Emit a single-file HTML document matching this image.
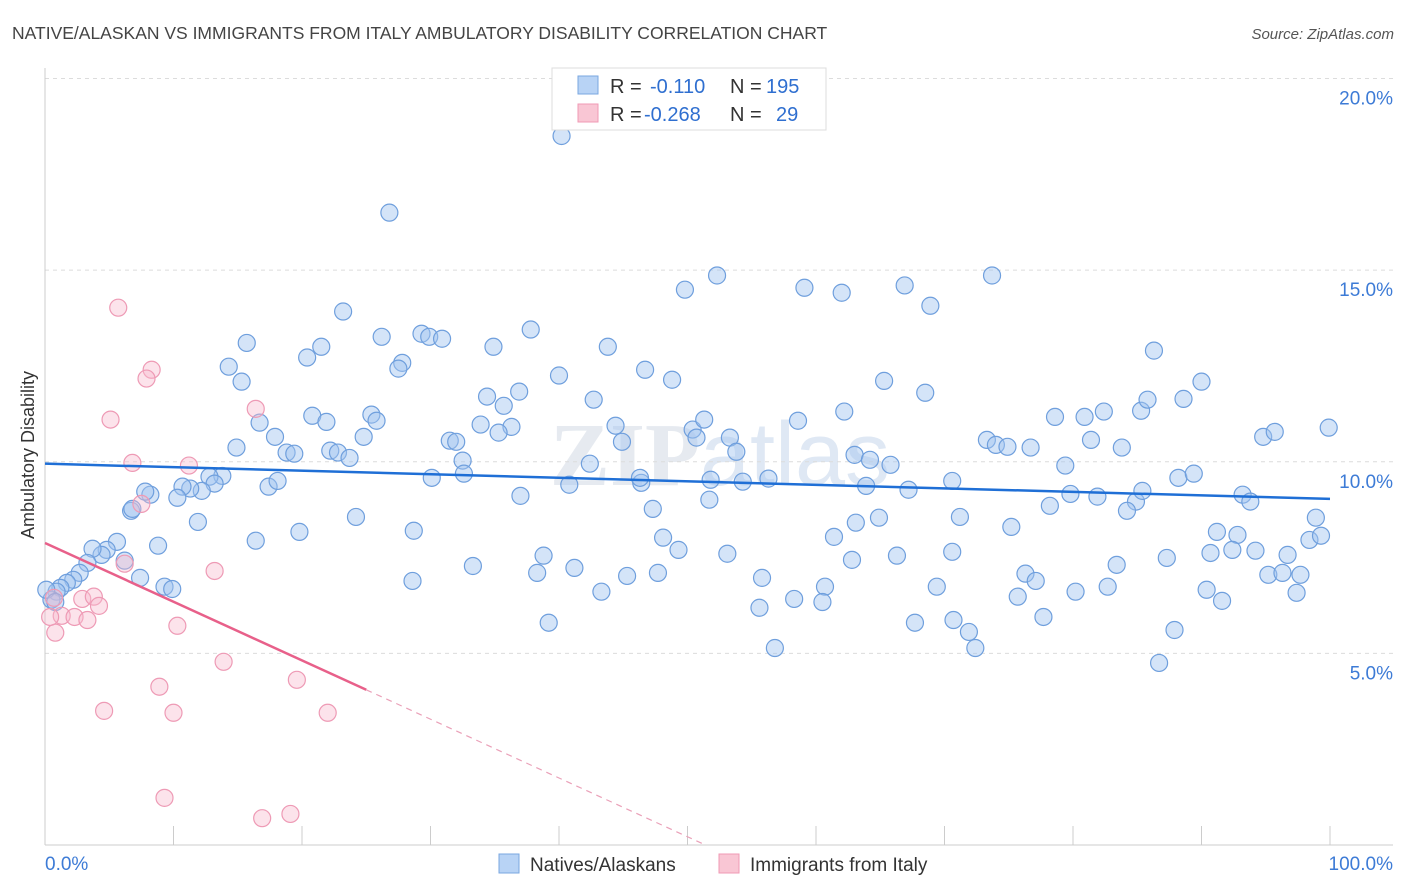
<!DOCTYPE html>
<html><head><meta charset="utf-8">
<style>
body{margin:0;background:#fff;font-family:"Liberation Sans",sans-serif;}
svg{display:block}
</style></head>
<body>
<svg id="chart" width="1406" height="892" xmlns="http://www.w3.org/2000/svg">
<text x="12" y="39" font-size="17.5" fill="#444">NATIVE/ALASKAN VS IMMIGRANTS FROM ITALY AMBULATORY DISABILITY CORRELATION CHART</text>
<text x="1394" y="39" font-size="15" fill="#555" font-style="italic" text-anchor="end">Source: ZipAtlas.com</text>
<text x="720" y="485" font-size="90" fill="#e6eaf0" text-anchor="middle" font-weight="bold" font-family="Liberation Serif, serif">ZIP<tspan font-family="Liberation Sans, sans-serif" font-weight="normal" fill="#dfe8f4">atlas</tspan></text>
<text transform="translate(34,455) rotate(-90)" font-size="18" fill="#333" text-anchor="middle">Ambulatory Disability</text>
<g id="grid"></g>
<g id="pts"></g>
<g id="trends"></g>
<g>
<rect x="552" y="68" width="274" height="62" fill="#fff" stroke="#ddd"/>
<rect x="578" y="76" width="20" height="18" fill="#b8d3f5" stroke="#7aa7e0"/>
<rect x="578" y="104" width="20" height="18" fill="#f9c6d4" stroke="#f09ab5"/>
<text x="610" y="93" font-size="20" fill="#333">R = <tspan fill="#2f6fd0" x="650">-0.110</tspan><tspan x="730" fill="#333">N = </tspan><tspan fill="#2f6fd0" x="766">195</tspan></text>
<text x="610" y="121" font-size="20" fill="#333">R = <tspan fill="#2f6fd0" x="644">-0.268</tspan><tspan x="730" fill="#333">N = </tspan><tspan fill="#2f6fd0" x="776">29</tspan></text>
</g>
<g>
<rect x="499" y="854" width="20" height="19" fill="#b8d3f5" stroke="#7aa7e0"/>
<text x="530" y="871" font-size="19" fill="#333">Natives/Alaskans</text>
<rect x="719" y="854" width="20" height="19" fill="#f9c6d4" stroke="#f09ab5"/>
<text x="750" y="871" font-size="19" fill="#333">Immigrants from Italy</text>
</g>
</svg>
<script>
const yTicks=[5,10,15,20];
const yTickLabels=["5.0%","10.0%","15.0%","20.0%"];
const xTicks=[0,10,20,30,40,50,60,70,80,90,100];
const xTickLabels=["0.0%","100.0%"];
const blueX=[40.2,26.8,52.3,49.8,59.1,62.0,66.9,73.7,68.9,23.2,29.3,29.9,30.9,26.2,37.8,21.5,15.7,20.4,27.8,27.5,34.9,43.8,46.7,40.0,48.8,14.3,15.3,34.4,36.9,35.7,42.7,44.4,33.9,36.3,35.3,31.5,32.0,44.9,50.4,51.3,50.7,53.3,53.8,58.6,62.2,65.3,68.5,63.0,64.2,65.8,78.6,80.9,82.4,85.3,85.8,88.6,90.0,86.3,81.4,83.8,79.4,94.8,95.7,99.9,73.3,74.0,74.9,76.7,17.9,16.7,18.8,19.4,22.2,22.8,23.7,24.8,25.4,25.8,20.8,21.9,14.9,13.8,12.8,13.2,12.2,11.3,10.7,10.3,8.2,7.8,6.7,11.9,17.4,18.1,32.5,32.6,30.1,42.4,40.8,46.4,51.7,54.3,56.3,63.9,67.2,70.6,81.9,84.9,84.2,88.2,89.4,93.2,93.8,79.8,78.2,85.4,71.2,64.9,63.1,61.4,62.8,66.3,70.6,75.2,91.2,92.8,98.9,98.4,99.3,96.7,94.2,92.4,90.7,87.3,83.4,82.7,80.2,76.3,77.1,75.7,77.7,90.4,91.6,95.2,96.3,97.7,97.4,87.9,86.7,72.4,71.9,70.7,69.4,67.7,60.7,60.5,58.3,55.6,56.8,55.8,53.1,49.3,48.1,47.7,45.3,43.3,41.2,38.8,38.3,39.2,37.0,33.3,28.6,28.7,24.2,19.8,16.4,8.8,7.4,9.3,9.9,6.2,5.6,4.8,4.4,3.7,3.3,2.7,2.2,1.7,1.2,0.9,0.5,0.1,0.8,6.8,46.3,47.3,51.8];
const blueY=[18.5,16.5,14.86,14.49,14.54,14.41,14.6,14.86,14.07,13.92,13.34,13.26,13.21,13.26,13.45,13.0,13.1,12.72,12.58,12.43,13.0,13.0,12.4,12.25,12.14,12.48,12.09,11.7,11.83,11.46,11.62,10.94,10.97,10.91,10.76,10.55,10.52,10.52,10.84,11.1,10.63,10.63,10.26,11.07,11.31,12.11,11.8,10.18,10.05,9.92,11.17,11.17,11.31,11.33,11.62,11.64,12.09,12.9,10.57,10.37,9.9,10.65,10.78,10.89,10.57,10.44,10.39,10.37,10.65,11.02,10.24,10.21,10.29,10.24,10.1,10.65,11.23,11.07,11.2,11.04,10.37,9.63,9.61,9.43,9.24,9.3,9.35,9.06,9.14,9.22,8.72,8.43,9.35,9.5,10.03,9.69,9.58,9.95,9.4,9.45,9.01,9.48,9.56,9.37,9.27,9.5,9.09,8.96,8.72,9.58,9.69,9.14,8.96,9.16,8.85,9.24,8.56,8.54,8.41,8.04,7.44,7.55,7.65,8.3,8.17,8.09,8.54,7.96,8.07,7.57,7.68,7.7,7.62,7.49,7.31,6.74,6.61,7.08,6.89,6.48,5.95,6.66,6.37,7.05,7.1,7.05,6.58,5.61,4.75,5.14,5.56,5.87,6.74,5.8,6.74,6.34,6.42,6.19,5.14,6.97,7.6,7.7,8.02,7.1,7.02,6.61,7.23,7.55,7.1,5.8,9.11,7.28,6.89,8.2,8.56,8.17,7.94,7.81,6.97,6.74,6.68,7.42,7.91,7.7,7.57,7.73,7.36,7.1,6.92,6.84,6.71,6.61,6.4,6.66,6.34,8.77,9.58,8.77,9.53];
const pinkX=[5.7,8.3,7.9,5.1,16.4,6.8,11.2,7.5,6.2,13.2,0.7,1.3,2.3,2.9,3.8,4.2,3.3,0.8,0.4,10.3,13.9,19.6,8.9,4.6,10.0,22.0,9.3,16.9,19.1];
const pinkY=[14.02,12.4,12.17,11.1,11.38,9.97,9.9,8.9,7.34,7.15,6.45,5.98,5.95,6.42,6.48,6.24,5.87,5.54,5.95,5.72,4.78,4.31,4.13,3.5,3.45,3.45,1.23,0.7,0.81];
const blueTrend=[9.95,9.03];          // y at x=0 and x=100
const pinkTrend=[7.88,4.05];          // y at x=0 and x=25 (solid)
const pinkTrendDashEnd=[51.4,0];      // dashed extension end
const NS="http://www.w3.org/2000/svg";
const X0=45,X1=1330,YB=845,YT=78.5;
function sx(v){return X0+(X1-X0)*v/100;}
function sy(v){return YB-(YB-YT)*v/20;}
function mk(tag,attrs,parent){const e=document.createElementNS(NS,tag);for(const k in attrs)e.setAttribute(k,attrs[k]);parent.appendChild(e);return e;}
const grid=document.getElementById('grid');
yTicks.forEach((t,i)=>{
  const l=mk('line',{x1:X0,x2:1393,y1:sy(t),y2:sy(t),stroke:'#dcdcdc','stroke-dasharray':'4,4'},grid);
  
  
  const tx=mk('text',{x:1393,y:sy(t)+26,'font-size':19,fill:'#3d7bd6','text-anchor':'end'},grid);
  tx.textContent=yTickLabels[i];
  
  
});
const ax=mk('line',{x1:X0,x2:X0,y1:68,y2:YB,stroke:'#ccc'},grid);


const bx=mk('line',{x1:X0,x2:1393,y1:YB,y2:YB,stroke:'#ccc'},grid);


xTicks.forEach(t=>{
  const l=mk('line',{x1:sx(t),x2:sx(t),y1:826,y2:YB,stroke:'#ccc'},grid);
  
  
});
const xl0=mk('text',{x:45,y:870,'font-size':19,fill:'#3d7bd6'},grid);
xl0.textContent=xTickLabels[0];


const xl1=mk('text',{x:1393,y:870,'font-size':19,fill:'#3d7bd6','text-anchor':'end'},grid);
xl1.textContent=xTickLabels[1];


const pts=document.getElementById('pts');
blueX.forEach((v,i)=>{
  const c=mk('circle',{cx:sx(v),cy:sy(blueY[i]),r:8.5,fill:'rgba(160,196,240,0.45)',stroke:'#6f9fdd','stroke-width':1.2},pts);
  
  
});
pinkX.forEach((v,i)=>{
  const c=mk('circle',{cx:sx(v),cy:sy(pinkY[i]),r:8.5,fill:'rgba(248,185,205,0.4)',stroke:'#ee9ab5','stroke-width':1.2},pts);
  
  
});
const tr=document.getElementById('trends');
const bl=mk('line',{x1:sx(0),y1:sy(blueTrend[0]),x2:sx(100),y2:sy(blueTrend[1]),stroke:'#1f6fd6','stroke-width':2.5},tr);


const pl=mk('line',{x1:sx(0),y1:sy(pinkTrend[0]),x2:sx(25),y2:sy(pinkTrend[1]),stroke:'#e8608a','stroke-width':2.5},tr);


const pd=mk('line',{x1:sx(25),y1:sy(pinkTrend[1]),x2:sx(pinkTrendDashEnd[0]),y2:sy(pinkTrendDashEnd[1]),stroke:'#eaa0b8','stroke-width':1.2,'stroke-dasharray':'6,5'},tr);


</script>
</body></html>
